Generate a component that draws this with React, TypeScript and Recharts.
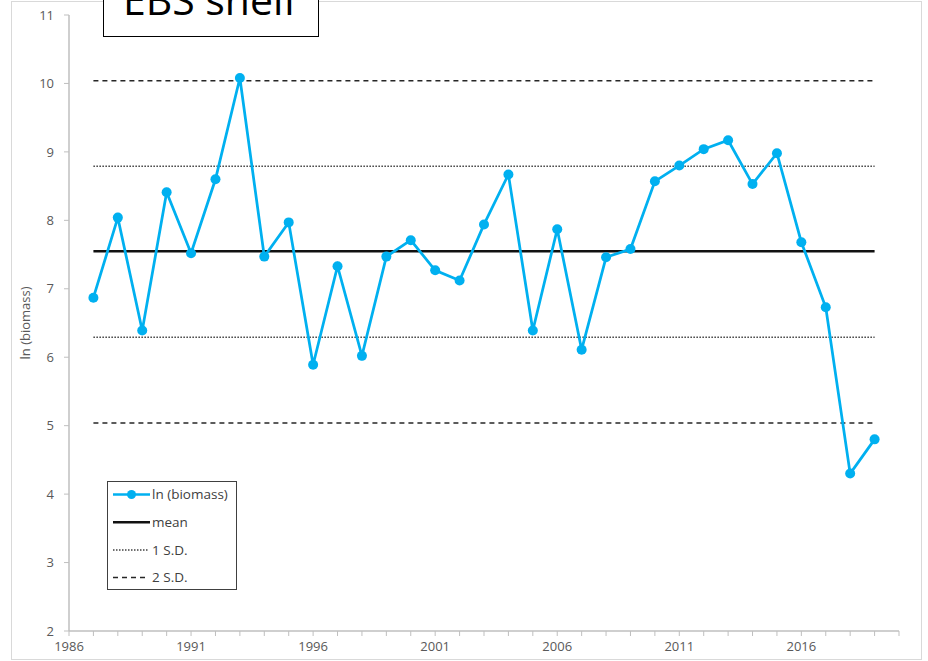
import React from 'react';
import { LineChart, Line, XAxis, YAxis } from 'recharts';

const years = [1987, 1988, 1989, 1990, 1991, 1992, 1993, 1994, 1995, 1996, 1997, 1998, 1999, 2000, 2001, 2002, 2003, 2004, 2005, 2006, 2007, 2008, 2009, 2010, 2011, 2012, 2013, 2014, 2015, 2016, 2017, 2018, 2019];
const lnBiomass = [6.87, 8.04, 6.39, 8.41, 7.52, 8.6, 10.08, 7.47, 7.97, 5.89, 7.33, 6.02, 7.47, 7.71, 7.27, 7.12, 7.94, 8.67, 6.39, 7.87, 6.11, 7.46, 7.58, 8.57, 8.8, 9.04, 9.17, 8.53, 8.98, 7.68, 6.73, 4.3, 4.8];
const meanValue = 7.55;
const sd1Upper = 8.79;
const sd1Lower = 6.29;
const sd2Upper = 10.04;
const sd2Lower = 5.04;
const xTicks = [1986, 1987, 1988, 1989, 1990, 1991, 1992, 1993, 1994, 1995, 1996, 1997, 1998, 1999, 2000, 2001, 2002, 2003, 2004, 2005, 2006, 2007, 2008, 2009, 2010, 2011, 2012, 2013, 2014, 2015, 2016, 2017, 2018, 2019, 2020];
const xLabels = [1986, 1991, 1996, 2001, 2006, 2011, 2016];
const yTicks = [2, 3, 4, 5, 6, 7, 8, 9, 10, 11];
const titleText = 'EBS shelf';
const yLabel = 'ln (biomass)';
const legendItems = ['ln (biomass)', 'mean', '1 S.D.', '2 S.D.'];

const data = years.map((y, i) => ({
  year: y,
  biomass: lnBiomass[i],
  mean: meanValue,
  sd1u: sd1Upper,
  sd1l: sd1Lower,
  sd2u: sd2Upper,
  sd2l: sd2Lower,
}));

const FONT = '"Open Sans", "Liberation Sans", sans-serif';
const BLUE = '#00b0f0';

const XTick = (props: any) => {
  const { x, y, payload } = props;
  if (!xLabels.includes(payload.value)) return <g />;
  return (
    <text x={x} y={y} dy="0.71em" textAnchor="middle" fill="#595959" fontSize={13} fontFamily={FONT}>
      {payload.value}
    </text>
  );
};

const LegendBox = () => (
  <div style={{ position: 'absolute', left: 107, top: 481, width: 130, height: 109, border: '1.5px solid #404040', boxSizing: 'border-box', background: '#fff' }}>
    <svg width={128} height={106} style={{ display: 'block' }}>
      {legendItems.map((label, i) => {
        const cy = 12.5 + i * 27.7;
        let sample: React.ReactNode = null;
        if (i === 0) {
          sample = (
            <g>
              <line x1={5} x2={42} y1={cy} y2={cy} stroke={BLUE} strokeWidth={2.5} />
              <circle cx={23.5} cy={cy} r={4.5} fill={BLUE} />
            </g>
          );
        } else if (i === 1) {
          sample = <line x1={5} x2={42} y1={cy} y2={cy} stroke="#111" strokeWidth={2.5} />;
        } else if (i === 2) {
          sample = <line x1={5} x2={40} y1={cy} y2={cy} stroke="#404040" strokeWidth={1.5} strokeDasharray="1.5 1.5" />;
        } else {
          sample = <line x1={5} x2={41} y1={cy} y2={cy} stroke="#262626" strokeWidth={1.5} strokeDasharray="5 4" />;
        }
        return (
          <g key={label}>
            {sample}
            <text x={44} y={cy} dy="0.36em" fontSize={13.5} fill="#404040" fontFamily={FONT}>
              {label}
            </text>
          </g>
        );
      })}
    </svg>
  </div>
);

const YLabel = (props: any) => {
  const vb = props.viewBox || {};
  const cx = 25;
  const cy = (vb.y || 0) + (vb.height || 0) / 2;
  return (
    <text x={cx} y={cy} transform={`rotate(-90 ${cx} ${cy})`} textAnchor="middle" dy="0.36em" fontSize={13} fill="#595959" fontFamily={FONT}>
      {yLabel}
    </text>
  );
};

export default function App() {
  return (
    <div style={{ position: 'absolute', left: 0, top: 0, width: 928, height: 661, overflow: 'hidden', background: '#fff', fontFamily: FONT }}>
      <div style={{ position: 'absolute', left: 11, top: 1, width: 911, height: 659, border: '1px solid #d9d9d9', boxSizing: 'border-box' }} />
      <LineChart width={928} height={661} data={data} margin={{ top: 15, right: 29, bottom: 0, left: 9 }}>
        <XAxis
          dataKey="year"
          type="number"
          domain={[1986, 2020]}
          ticks={xTicks}
          interval={0}
          tick={<XTick />}
          tickSize={5}
          tickMargin={6}
          height={30}
          axisLine={{ stroke: '#bfbfbf', strokeWidth: 1.5 }}
          tickLine={{ stroke: '#bfbfbf' }}
        />
        <YAxis
          type="number"
          domain={[2, 11]}
          ticks={yTicks}
          interval={0}
          width={60}
          tickSize={5}
          tickMargin={10}
          tick={{ fill: '#595959', fontSize: 13, fontFamily: FONT }}
          axisLine={{ stroke: '#bfbfbf', strokeWidth: 1.5 }}
          tickLine={{ stroke: '#bfbfbf' }}
          label={{ content: <YLabel /> }}
        />
        <Line dataKey="sd2u" stroke="#262626" strokeWidth={1.5} strokeDasharray="5 4" dot={false} isAnimationActive={false} legendType="none" />
        <Line dataKey="sd2l" stroke="#262626" strokeWidth={1.5} strokeDasharray="5 4" dot={false} isAnimationActive={false} legendType="none" />
        <Line dataKey="sd1u" stroke="#404040" strokeWidth={1.5} strokeDasharray="1.5 1.5" dot={false} isAnimationActive={false} legendType="none" />
        <Line dataKey="sd1l" stroke="#404040" strokeWidth={1.5} strokeDasharray="1.5 1.5" dot={false} isAnimationActive={false} legendType="none" />
        <Line dataKey="mean" stroke="#111" strokeWidth={2.5} dot={false} isAnimationActive={false} />
        <Line dataKey="biomass" stroke={BLUE} strokeWidth={2.75} dot={{ r: 5, fill: BLUE, stroke: BLUE, strokeWidth: 0 }} isAnimationActive={false} />
      </LineChart>
      <LegendBox />
      <div style={{ position: 'absolute', left: 103, top: -45, width: 216, height: 82, border: '1.5px solid #000', boxSizing: 'border-box', background: '#fff' }}>
        <svg width={213} height={79} style={{ display: 'block' }}>
          <text x={106} y={59} textAnchor="middle" fontSize={41} fill="#000" fontFamily={FONT}>
            {titleText}
          </text>
        </svg>
      </div>
    </div>
  );
}
